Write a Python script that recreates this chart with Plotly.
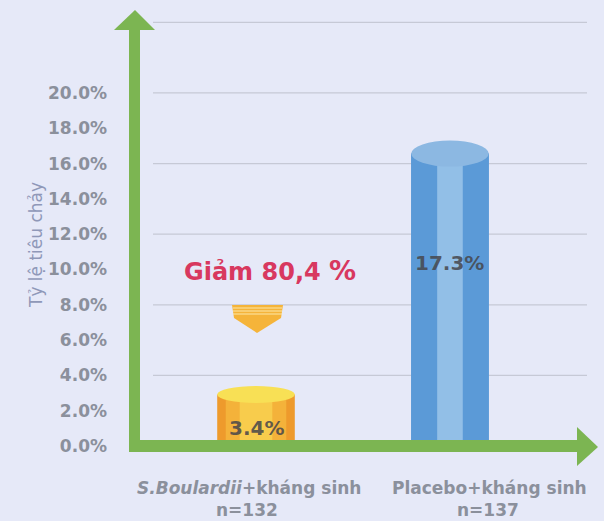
import plotly.graph_objects as go

# ---- data ----
categories = ["S.Boulardii+kháng sinh", "Placebo+kháng sinh"]
cat_line1 = ["<i>S.Boulardii</i>+kháng sinh", "Placebo+kháng sinh"]
cat_line2 = ["n=132", "n=137"]
values = [3.4, 17.3]
value_labels = ["3.4%", "17.3%"]
tick_vals = [0, 2, 4, 6, 8, 10, 12, 14, 16, 18, 20]
tick_text = ["0.0%", "2.0%", "4.0%", "6.0%", "8.0%", "10.0%", "12.0%", "14.0%", "16.0%", "18.0%", "20.0%"]
grid_vals = [4, 8, 12, 16, 20, 24]
reduction_text = "Giảm 80,4 "
reduction_pct = "%"
y_title = "Tỷ lệ tiêu chảy"

# ---- style ----
W, H = 604, 521
L, R, T, B = 134, 7, 10, 75
YMAX = 24.7
XR = [-0.629, 1.758]
plot_w = W - L - R
plot_h = H - T - B
px_per_y = plot_h / YMAX
px_per_x = plot_w / (XR[1] - XR[0])
FONT = "DejaVu Sans"

bar_w = 0.40
cap_px = [17, 26]                      # ellipse heights in px
body_cols = [["#ee9a2c", "#f4b23a", "#f8cc4c"], ["#5b9ad7", "#5b9ad7", "#92bfe7"]]
body_widths = [[1.0, 0.78, 0.42], [1.0, 1.0, 0.33]]
cap_cols = ["#f8e055", "#8cb8e2"]
green = "#7cb552"
bg = "#e6e9f8"
tick_col = "#8b909c"

fig = go.Figure()

caps = [c / px_per_y for c in cap_px]
for i, (cat, v) in enumerate(zip(categories, values)):
    for col, wf in zip(body_cols[i], body_widths[i]):
        fig.add_trace(go.Bar(
            x=[cat], y=[v - caps[i] / 2], width=bar_w * wf,
            marker=dict(color=col, line=dict(width=0)),
            hoverinfo="skip", showlegend=False))
    fig.add_shape(type="circle", xref="x", yref="y",
                  x0=i - bar_w / 2, x1=i + bar_w / 2,
                  y0=v - caps[i], y1=v,
                  fillcolor=cap_cols[i], line=dict(width=0), layer="above")

fig.update_layout(barmode="overlay")

def py2y(py):
    return (H - B - py) / px_per_y

def py2p(py):
    return (H - B - py) / plot_h

# value labels
label_py = [428, 263]
for i, (txt, lp) in enumerate(zip(value_labels, label_py)):
    fig.add_annotation(x=i, y=py2y(lp), xref="x", yref="y", text=f"<b>{txt}</b>",
                       showarrow=False, font=dict(family=FONT, size=20, color="rgba(70,70,75,0.85)"))

# reduction text
fig.add_annotation(x=0, y=py2y(270), xref="x", yref="y",
                   text=f"<b>{reduction_text}<span style='font-size:27px'>{reduction_pct}</span></b>",
                   showarrow=False, xshift=14,
                   font=dict(family=FONT, size=24, color="#d8385f"))

# down arrow (decorative) in data units relative to category 0
def px2d(px, py):
    return ((px - 256) / px_per_x, (H - B - py) / px_per_y)

pts = [px2d(232, 305), px2d(283, 305), px2d(281, 318), px2d(257, 333), px2d(234, 318)]
path = "M " + " L ".join(f"{x:.4f},{y:.4f}" for x, y in pts) + " Z"
fig.add_shape(type="path", xref="x", yref="y", path=path,
              fillcolor="#f5b43a", line=dict(width=0), layer="above")
for py in [308, 311, 314]:
    a = px2d(233, py); b = px2d(282, py)
    fig.add_shape(type="line", xref="x", yref="y", x0=a[0], x1=b[0], y0=a[1], y1=b[1],
                  line=dict(color="#fde7a8", width=1.2), layer="above")

# category labels
shifts = [-7, 40]
for i in range(len(categories)):
    fig.add_annotation(x=i, y=py2p(488), xref="x", yref="paper", text=cat_line1[i], showarrow=False,
                       xshift=shifts[i], yanchor="middle",
                       font=dict(family=FONT, size=17, color=tick_col, weight="bold"))
    fig.add_annotation(x=i, y=py2p(510), xref="x", yref="paper", text=cat_line2[i], showarrow=False,
                       xshift=shifts[i] - 2, yanchor="middle",
                       font=dict(family=FONT, size=17, color=tick_col, weight="bold"))

# y-axis title
fig.add_annotation(x=(24 - L) / plot_w, y=py2p(245), xref="paper", yref="paper",
                   text=y_title, textangle=-90, showarrow=False,
                   font=dict(family=FONT, size=17, color="#8f98b8"))

# green axis lines with arrowheads (paper coords)
def pp(px, py):
    return ((px - L) / plot_w, (H - B - py) / plot_h)

ax0 = pp(134.5, 452); ax1 = pp(134.5, 28)
fig.add_shape(type="line", xref="paper", yref="paper", x0=ax0[0], x1=ax1[0], y0=ax0[1], y1=ax1[1],
              line=dict(color=green, width=11), layer="above")
tri = [pp(114, 30), pp(155, 30), pp(135, 10)]
fig.add_shape(type="path", xref="paper", yref="paper",
              path="M " + " L ".join(f"{x:.4f},{y:.4f}" for x, y in tri) + " Z",
              fillcolor=green, line=dict(width=0), layer="above")
bx0 = pp(129, 446); bx1 = pp(579, 446)
fig.add_shape(type="line", xref="paper", yref="paper", x0=bx0[0], x1=bx1[0], y0=bx0[1], y1=bx1[1],
              line=dict(color=green, width=12), layer="above")
tri2 = [pp(577, 427), pp(577, 466), pp(598, 447)]
fig.add_shape(type="path", xref="paper", yref="paper",
              path="M " + " L ".join(f"{x:.4f},{y:.4f}" for x, y in tri2) + " Z",
              fillcolor=green, line=dict(width=0), layer="above")

# gridlines every 4%
for g in grid_vals:
    fig.add_shape(type="line", xref="paper", yref="y", x0=(153 - L) / plot_w, x1=(587 - L) / plot_w,
                  y0=g, y1=g, line=dict(color="#c6c9d6", width=1.3), layer="below")

fig.update_layout(
    width=W, height=H,
    margin=dict(l=L, r=R, t=T, b=B),
    paper_bgcolor=bg, plot_bgcolor=bg,
    font=dict(family=FONT),
    xaxis=dict(range=XR, showticklabels=False, showgrid=False, zeroline=False, showline=False, ticks=""),
    yaxis=dict(range=[0, YMAX], tickvals=tick_vals, ticktext=tick_text, showgrid=False,
               zeroline=False, showline=False, ticks="", ticklabelstandoff=26,
               tickfont=dict(family=FONT, size=17, color=tick_col, weight="bold")),
    showlegend=False,
)

fig.write_html("out.html", config={"displayModeBar": False},
               post_script="document.body.style.margin='0';")
